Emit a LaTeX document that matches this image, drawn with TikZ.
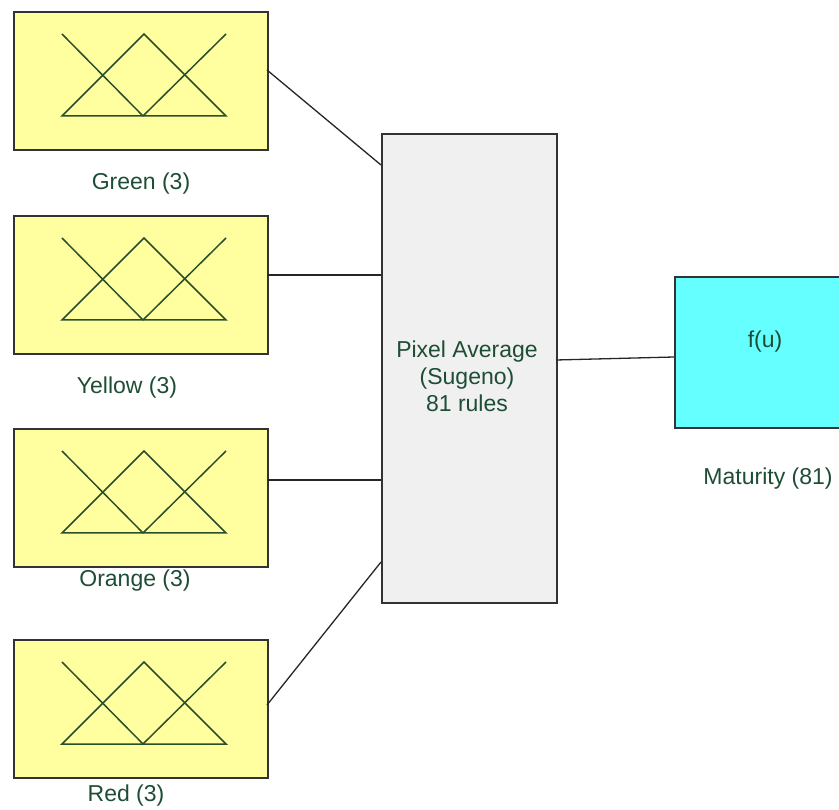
\documentclass[tikz,border=0pt]{standalone}
\usepackage{fontspec}
\setmainfont{Liberation Sans}
\definecolor{boxyellow}{HTML}{FFFF9F}
\definecolor{boxgray}{HTML}{F0F0F0}
\definecolor{boxcyan}{HTML}{66FFFF}
\definecolor{txtgreen}{HTML}{1E4D35}
\definecolor{mfgreen}{HTML}{2A4F2A}
\definecolor{edge}{HTML}{333333}
\begin{document}
\begin{tikzpicture}[x=1pt,y=-1pt,
  inbox/.style={draw=edge,line width=1.6pt,fill=boxyellow,minimum width=254pt,minimum height=138pt,inner sep=0pt,anchor=north west},
  midbox/.style={draw=edge,line width=1.6pt,fill=boxgray,minimum width=175pt,minimum height=469pt,inner sep=0pt,anchor=north west},
  outbox/.style={draw=edge,line width=1.6pt,fill=boxcyan,minimum width=175pt,minimum height=151pt,inner sep=0pt,anchor=north west},
  lbl/.style={text=txtgreen,font=\fontsize{23}{27}\selectfont,inner sep=0pt,align=center},
  conn/.style={draw=black!85,line width=1.3pt},
  mf/.style={draw=mfgreen,line width=1.5pt,line join=miter}
]
\useasboundingbox (0,0) rectangle (839,810);
% input boxes
\foreach \nm/\y in {g/11,yl/215,o/428,r/639}{
  \node[inbox] (\nm) at (13,\y) {};
  \draw[mf] ([shift={(49pt,-23pt)}]\nm.north west) -- ([shift={(130pt,-105pt)}]\nm.north west);
  \draw[mf] ([shift={(49pt,-105pt)}]\nm.north west) -- ([shift={(131pt,-23pt)}]\nm.north west) -- ([shift={(213pt,-105pt)}]\nm.north west) -- cycle;
  \draw[mf] ([shift={(130pt,-105pt)}]\nm.north west) -- ([shift={(213pt,-23pt)}]\nm.north west);
}
\node[lbl] (lg) at (141,184) {Green (3)};
\node[lbl] (lyl) at (127,388) {Yellow (3)};
\node[lbl] (lo) at (135,581) {Orange (3)};
\node[lbl] (lr) at (126,796) {Red (3)};
% central box
\node[midbox] (c) at (381,133) {};
\node[lbl] (ct) at (467,376) {Pixel Average\\(Sugeno)\\81 rules};
% output box
\node[outbox] (out) at (674,276) {};
\node[lbl] (fu) at (765,342) {f(u)};
\node[lbl] (lm) at (768,479) {Maturity (81)};
% connectors
\coordinate (cg) at (381,165);
\coordinate (cr) at (381,562);
\coordinate (gE) at (267,70);
\coordinate (rE) at (267,705);
\coordinate (yE) at (267,275);
\coordinate (oE) at (267,480);
\coordinate (cE) at (556,360);
\coordinate (oW) at (674,357);
\draw[conn] (gE) -- (cg);
\draw[conn] (yE) -- (yE -| c.west);
\draw[conn] (oE) -- (oE -| c.west);
\draw[conn] (rE) -- (cr);
\draw[conn] (cE) -- (oW);
\end{tikzpicture}
\end{document}
